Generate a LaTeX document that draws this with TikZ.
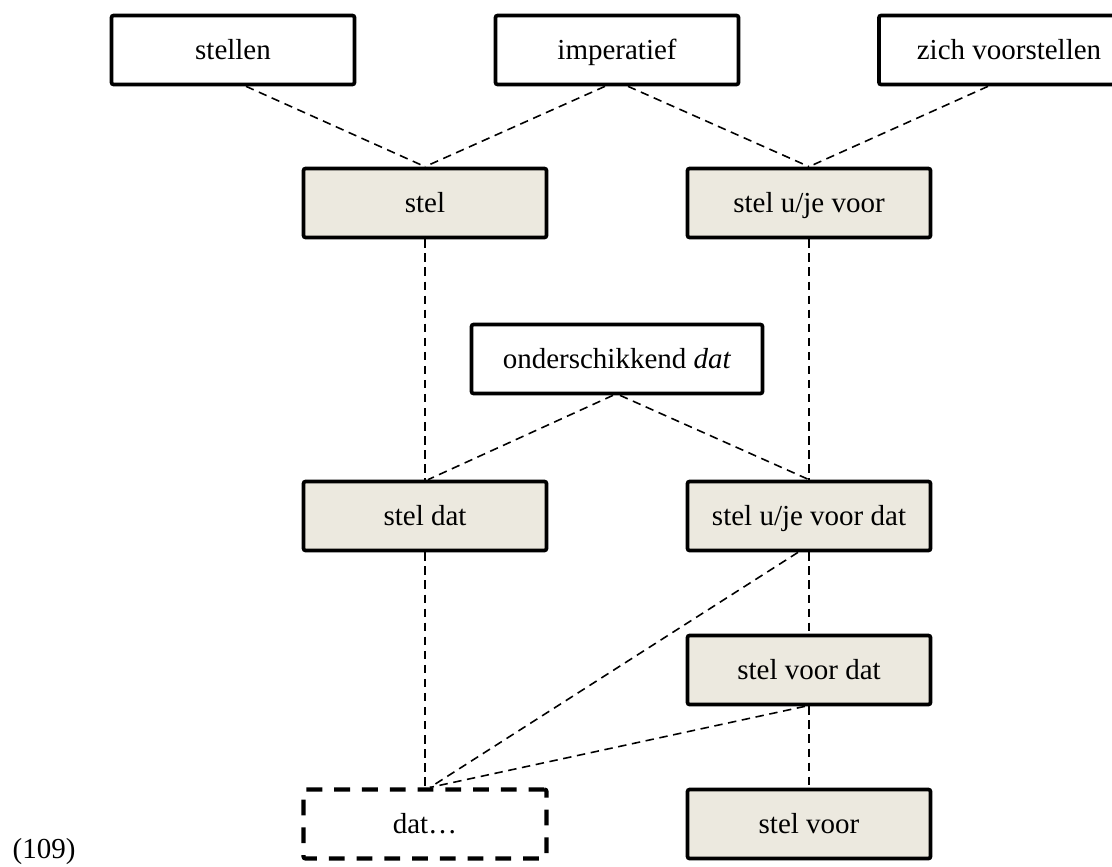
\documentclass[tikz,border=0pt]{standalone}
\usepackage{fontspec}
\setmainfont{Liberation Serif}
\usepackage{tikz}
\definecolor{stemfill}{HTML}{ECE9DF}
\tikzset{word/.style = {draw, line width = 1.05pt, rounded corners = 0.6pt,
                        minimum width = 2.43cm, minimum height = 0.69cm,
                        text height = 6.4pt, text depth = 1.2pt,
                        inner sep = 0, font = \fontsize{8.25}{10}\selectfont}}
\tikzset{stem/.style = {word, fill = stemfill}}
\tikzset{open/.style = {word, line width = 1.2pt, dash pattern = on 4.5pt off 3.4pt}}
\tikzset{link/.style = {line width = 0.45pt, dash pattern = on 2.4pt off 1.6pt}}

\begin{document}
\begin{tikzpicture}
      \useasboundingbox (0, 0) rectangle (11.12, -8.66);
      \node (stellen) at (2.33, -0.50) [word] {stellen};
      \node (imperatief) at (6.17, -0.50) [word] {imperatief};
      \node (zich) at (10.09, -0.50) [word, minimum width = 2.6cm] {zich voorstellen};
      \node (stel) at (4.25, -2.03) [stem] {stel};
      \node (steluvoor) at (8.09, -2.03) [stem] {stel u/je voor};
      \node (onder) at (6.17, -3.59) [word, minimum width = 2.91cm] {onderschikkend \textit{dat}};
      \node (steldat) at (4.25, -5.16) [stem] {stel dat};
      \node (steluvoordat) at (8.09, -5.16) [stem] {stel u/je voor dat};
      \node (stelvoordat) at (8.09, -6.70) [stem] {stel voor dat};
      \node (dat) at (4.25, -8.24) [open] {dat…};
      \node (stelvoor) at (8.09, -8.24) [stem] {stel voor};
      \node (nr) at (0.12, -8.58) [anchor = base west, inner sep = 0,
                                   font = \fontsize{8.25}{10}\selectfont] {(109)};

      \draw [link] ([xshift = 0.13cm] stellen.south) -- (stel.north);
      \draw [link] ([xshift = -0.12cm] imperatief.south) -- (stel.north);
      \draw [link] ([xshift = 0.11cm] imperatief.south) -- (steluvoor.north);
      \draw [link] ([xshift = -0.21cm] zich.south) -- (steluvoor.north);
      \draw [link] (stel.south) -- (steldat.north);
      \draw [link] (steluvoor.south) -- (steluvoordat.north);
      \draw [link] ([xshift = -0.04cm] onder.south) -- ([xshift = 0.03cm] steldat.north);
      \draw [link] ([xshift = 0.03cm] onder.south) -- (steluvoordat.north);
      \draw [link] (steldat.south) -- (dat.north);
      \draw [link] (steluvoordat.south) -- (stelvoordat.north);
      \draw [link] ([xshift = -0.11cm] steluvoordat.south) -- ([xshift = 0.05cm] dat.north);
      \draw [link] (stelvoordat.south) -- (stelvoor.north);
      \draw [link] ([xshift = -0.04cm] stelvoordat.south) -- ([xshift = 0.05cm] dat.north);
\end{tikzpicture}
\end{document}
